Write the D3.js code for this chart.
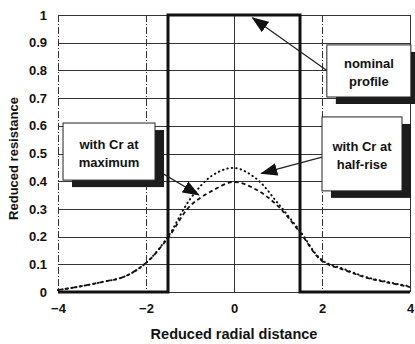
<!DOCTYPE html>
<html>
<head>
<meta charset="utf-8">
<script src="https://cdn.jsdelivr.net/npm/d3@7"></script>
<style>
  html, body { margin: 0; padding: 0; background: #fff; }
  #chart { width: 415px; height: 344px; }
  text { font-family: Arial, "Liberation Sans", sans-serif; fill: #111; }
</style>
</head>
<body>
<div id="chart"></div>
<script>
const radialX = [-4, -3.5, -3, -2.5, -2, -1.5, -1, -0.5, 0, 0.5, 1, 1.5, 2, 2.5, 3, 3.5, 4];
// with Cr at half-rise (dotted)
const halfRise = [0.007, 0.02, 0.036, 0.055, 0.105, 0.2, 0.335, 0.42, 0.448, 0.41, 0.32, 0.22, 0.115, 0.083, 0.054, 0.036, 0.02];
// with Cr at maximum (dashed)
const atMaximum = [0.007, 0.02, 0.036, 0.055, 0.105, 0.195, 0.31, 0.365, 0.397, 0.37, 0.31, 0.215, 0.112, 0.08, 0.052, 0.034, 0.018];
// nominal step profile
const nominalX = [-4, -1.5, -1.5, 1.5, 1.5, 4];
const nominalY = [0, 0, 1, 1, 0, 0];

const xTicks = [-4, -2, 0, 2, 4];
const yTicks = [0, 0.1, 0.2, 0.3, 0.4, 0.5, 0.6, 0.7, 0.8, 0.9, 1];

const margin = {top: 15, right: 5, bottom: 52, left: 58};
const W = 415, H = 344;
const width = W - margin.left - margin.right;
const height = H - margin.top - margin.bottom;

const svg = d3.select('#chart').append('svg')
  .attr('width', W)
  .attr('height', H);

const defs = svg.append('defs');
defs.append('marker')
  .attr('id', 'head')
  .attr('viewBox', '0 0 16 12')
  .attr('refX', 15)
  .attr('refY', 6)
  .attr('markerWidth', 17)
  .attr('markerHeight', 13)
  .attr('markerUnits', 'userSpaceOnUse')
  .attr('orient', 'auto')
  .append('path')
  .attr('d', 'M0,0 L16,6 L0,12 Z')
  .attr('fill', '#111');

const g = svg.append('g')
  .attr('transform', 'translate(' + margin.left + ',' + margin.top + ')');

const x = d3.scaleLinear().domain([-4, 4]).range([0, width]);
const y = d3.scaleLinear().domain([0, 1]).range([height, 0]);

// horizontal grid
const hgrid = g.append('g').attr('class', 'hgrid');
yTicks.forEach(v => {
  hgrid.append('line')
    .attr('x1', x(-4)).attr('x2', x(4))
    .attr('y1', Math.round(y(v)) + 0.5).attr('y2', Math.round(y(v)) + 0.5)
    .attr('stroke', '#333')
    .attr('stroke-width', 1);
});

// vertical grid
const vgrid = g.append('g').attr('class', 'vgrid');
xTicks.forEach(v => {
  vgrid.append('line')
    .attr('x1', Math.round(x(v)) + 0.5).attr('x2', Math.round(x(v)) + 0.5)
    .attr('y1', y(1)).attr('y2', y(0))
    .attr('stroke', '#333')
    .attr('stroke-width', 1)
    .attr('stroke-dasharray', (v === 0 || v === 4) ? null : '7,2,1,2');
});

// axes (labels only)
const xAxis = g.append('g')
  .attr('transform', 'translate(0,' + height + ')')
  .call(d3.axisBottom(x).tickValues(xTicks).tickSize(0).tickPadding(12).tickFormat(d3.format('d')));
xAxis.select('.domain').remove();
xAxis.selectAll('text')
  .style('font-size', '13px')
  .style('font-weight', 'bold')
  .attr('font-family', null);

const yAxis = g.append('g')
  .call(d3.axisLeft(y).tickValues(yTicks).tickSize(0).tickPadding(11).tickFormat(d => d === 0 || d === 1 ? d3.format('d')(d) : d3.format('.1f')(d)));
yAxis.select('.domain').remove();
yAxis.selectAll('text')
  .style('font-size', '13px')
  .style('font-weight', 'bold')
  .attr('font-family', null);

// curves
const line = d3.line()
  .x(d => x(d[0]))
  .y(d => y(d[1]))
  .curve(d3.curveCatmullRom.alpha(0.5));

g.append('path')
  .datum(radialX.map((r, i) => [r, atMaximum[i]]))
  .attr('fill', 'none')
  .attr('stroke', '#111')
  .attr('stroke-width', 1.8)
  .attr('stroke-dasharray', '4,3')
  .attr('d', line);

g.append('path')
  .datum(radialX.map((r, i) => [r, halfRise[i]]))
  .attr('fill', 'none')
  .attr('stroke', '#111')
  .attr('stroke-width', 2)
  .attr('stroke-linecap', 'round')
  .attr('stroke-dasharray', '0.5,4')
  .attr('d', line);

// nominal profile
g.append('path')
  .datum(nominalX.map((r, i) => [r, nominalY[i]]))
  .attr('fill', 'none')
  .attr('stroke', '#111')
  .attr('stroke-width', 3)
  .attr('d', d3.line().x(d => x(d[0])).y(d => y(d[1])));

// annotation boxes (data units)
const notes = [
  {lines: ['nominal', 'profile'], x0: 2.11, x1: 4.02, y0: 0.892, y1: 0.704,
   from: [2.11, 0.80], to: [0.42, 0.99]},
  {lines: ['with Cr at', 'maximum'], x0: -3.886, x1: -1.795, y0: 0.61, y1: 0.404,
   from: [-1.75, 0.44], to: [-0.8, 0.35]},
  {lines: ['with Cr at', 'half-rise'], x0: 2.0, x1: 3.818, y0: 0.632, y1: 0.365,
   from: [2.0, 0.487], to: [0.62, 0.428]}
];

notes.forEach(n => {
  g.append('line')
    .attr('x1', x(n.from[0])).attr('y1', y(n.from[1]))
    .attr('x2', x(n.to[0])).attr('y2', y(n.to[1]))
    .attr('stroke', '#222')
    .attr('stroke-width', 1.2)
    .attr('marker-end', 'url(#head)');
});

notes.forEach(n => {
  const bx = x(n.x0), by = y(n.y0);
  const bw = x(n.x1) - bx, bh = y(n.y1) - by;
  g.append('rect')
    .attr('x', bx + 9).attr('y', by + 7)
    .attr('width', bw).attr('height', bh)
    .attr('fill', '#1c1c1c');
  g.append('rect')
    .attr('x', bx).attr('y', by)
    .attr('width', bw).attr('height', bh)
    .attr('fill', '#fff')
    .attr('stroke', '#222')
    .attr('stroke-width', 1);
  n.lines.forEach((t, i) => {
    g.append('text')
      .attr('x', bx + bw / 2)
      .attr('y', by + bh / 2 - 3 + i * 18)
      .attr('text-anchor', 'middle')
      .style('font-size', '13px')
      .style('font-weight', 'bold')
      .text(t);
  });
});

// axis titles
svg.append('text')
  .attr('transform', 'translate(18,' + (margin.top + height / 2 + 5) + ') rotate(-90)')
  .attr('text-anchor', 'middle')
  .style('font-size', '13px')
  .style('font-weight', 'bold')
  .text('Reduced resistance');

svg.append('text')
  .attr('x', margin.left + width / 2)
  .attr('y', 339)
  .attr('text-anchor', 'middle')
  .style('font-size', '14.5px')
  .style('font-weight', 'bold')
  .text('Reduced radial distance');
</script>
</body>
</html>
